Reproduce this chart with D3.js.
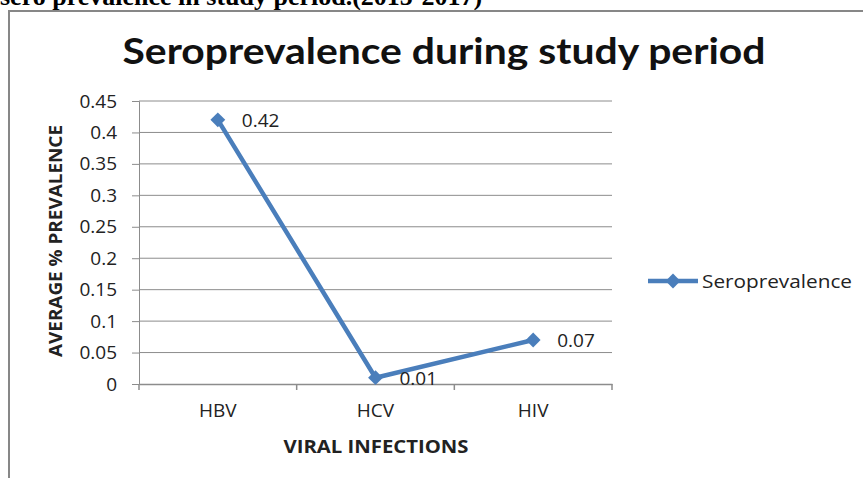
<!DOCTYPE html>
<html><head><meta charset="utf-8">
<script src="https://cdn.jsdelivr.net/npm/d3@7"></script>
<style>body{margin:0;background:#fff}svg{display:block}</style>
</head><body><svg id="c" width="863" height="478"></svg>
<script>
const categories = ["HBV", "HCV", "HIV"];
const values = [0.42, 0.01, 0.07];
const yTicks = [0, 0.05, 0.1, 0.15, 0.2, 0.25, 0.3, 0.35, 0.4, 0.45];
const seriesName = "Seroprevalence";

const svg = d3.select("#c");
const blue = "#4A7EBB";
const font = "'Open Sans', Lato, sans-serif";
const tfont = "Lato, 'Open Sans', sans-serif";

// page text cut off at top
svg.append("text").attr("x", 0).attr("y", 4.5)
  .attr("font-family", "'Liberation Serif', 'Times New Roman', serif")
  .attr("font-weight", "bold").attr("font-size", 26)
  .text("sero prevalence in study period.(2015-2017)");

// chart border
svg.append("path").attr("d", "M9,478 V11 H863")
  .attr("fill", "none").attr("stroke", "#878787").attr("stroke-width", 2);

const x0 = 139, x1 = 612, yTop = 101, yBot = 384;
const x = d3.scaleBand().domain(categories).range([x0, x1]);
const y = d3.scaleLinear().domain([0, 0.45]).range([yBot, yTop]);

// gridlines
svg.append("g").selectAll("line").data(yTicks.filter(d => d > 0)).join("line")
  .attr("x1", x0).attr("x2", x1).attr("y1", d => y(d)).attr("y2", d => y(d))
  .attr("stroke", "#8c8c8c").attr("stroke-width", 1);

// y axis
const ya = svg.append("g").attr("transform", `translate(${x0},0)`)
  .call(d3.axisLeft(y).tickValues(yTicks).tickSize(7).tickFormat(d => String(d)));
ya.select(".domain").attr("stroke", "#8c8c8c");
ya.selectAll(".tick line").attr("stroke", "#8c8c8c");
ya.selectAll(".tick text").attr("font-family", font).attr("font-size", 19)
  .attr("fill", "#222").attr("x", -22);

// x axis
const xa = svg.append("g").attr("transform", `translate(0,${yBot})`)
  .call(d3.axisBottom(x).tickSize(0).tickPadding(20));
xa.select(".domain").attr("stroke", "#8c8c8c").attr("stroke-width", 1.5);
xa.selectAll(".tick text").attr("font-family", font).attr("font-size", 19).attr("fill", "#222");
const bounds = categories.map(c => x(c)).concat([x1]);
svg.append("g").selectAll("line").data(bounds).join("line")
  .attr("x1", d => d).attr("x2", d => d).attr("y1", yBot).attr("y2", yBot + 6)
  .attr("stroke", "#8c8c8c").attr("stroke-width", 1.5);

// line
const cx = c => x(c) + x.bandwidth() / 2;
svg.append("path").datum(values)
  .attr("d", d3.line().x((d, i) => cx(categories[i])).y(d => y(d)))
  .attr("fill", "none").attr("stroke", blue).attr("stroke-width", 4.5).attr("stroke-linejoin", "round");

const diamond = d3.symbol().type(d3.symbolDiamond2).size(140);
svg.append("g").selectAll("path").data(values).join("path")
  .attr("d", diamond).attr("transform", (d, i) => `translate(${cx(categories[i])},${y(d)})`)
  .attr("fill", blue);

// data labels
svg.append("g").selectAll("text").data(values).join("text")
  .attr("x", (d, i) => cx(categories[i]) + 24).attr("y", d => y(d) + 7)
  .attr("font-family", font).attr("font-size", 19).attr("fill", "#222")
  .text(d => String(d));

// axis titles
svg.append("text").attr("x", 376).attr("y", 453).attr("text-anchor", "middle")
  .attr("font-family", font).attr("font-weight", "bold").attr("font-size", 18).attr("fill", "#222")
  .attr("textLength", 185).attr("lengthAdjust", "spacingAndGlyphs")
  .text("VIRAL INFECTIONS");
svg.append("text").attr("transform", "translate(62,241) rotate(-90)").attr("text-anchor", "middle")
  .attr("font-family", font).attr("font-weight", "bold").attr("font-size", 18).attr("fill", "#222")
  .attr("textLength", 232).attr("lengthAdjust", "spacingAndGlyphs")
  .text("AVERAGE  % PREVALENCE");

// title
svg.append("text").attr("x", 444).attr("y", 64).attr("text-anchor", "middle")
  .attr("font-family", tfont).attr("font-weight", "bold").attr("font-size", 37).attr("fill", "#111")
  .attr("textLength", 643).attr("lengthAdjust", "spacingAndGlyphs")
  .text("Seroprevalence during study period");

// legend
const lg = svg.append("g").attr("transform", "translate(648,281)");
lg.append("line").attr("x1", 0).attr("x2", 50).attr("stroke", blue).attr("stroke-width", 4.5);
lg.append("path").attr("d", diamond).attr("transform", "translate(25,0)").attr("fill", blue);
lg.append("text").attr("x", 54).attr("y", 7).attr("font-family", font).attr("font-size", 19)
  .attr("fill", "#222").attr("textLength", 150).attr("lengthAdjust", "spacingAndGlyphs").text(seriesName);
</script></body></html>
